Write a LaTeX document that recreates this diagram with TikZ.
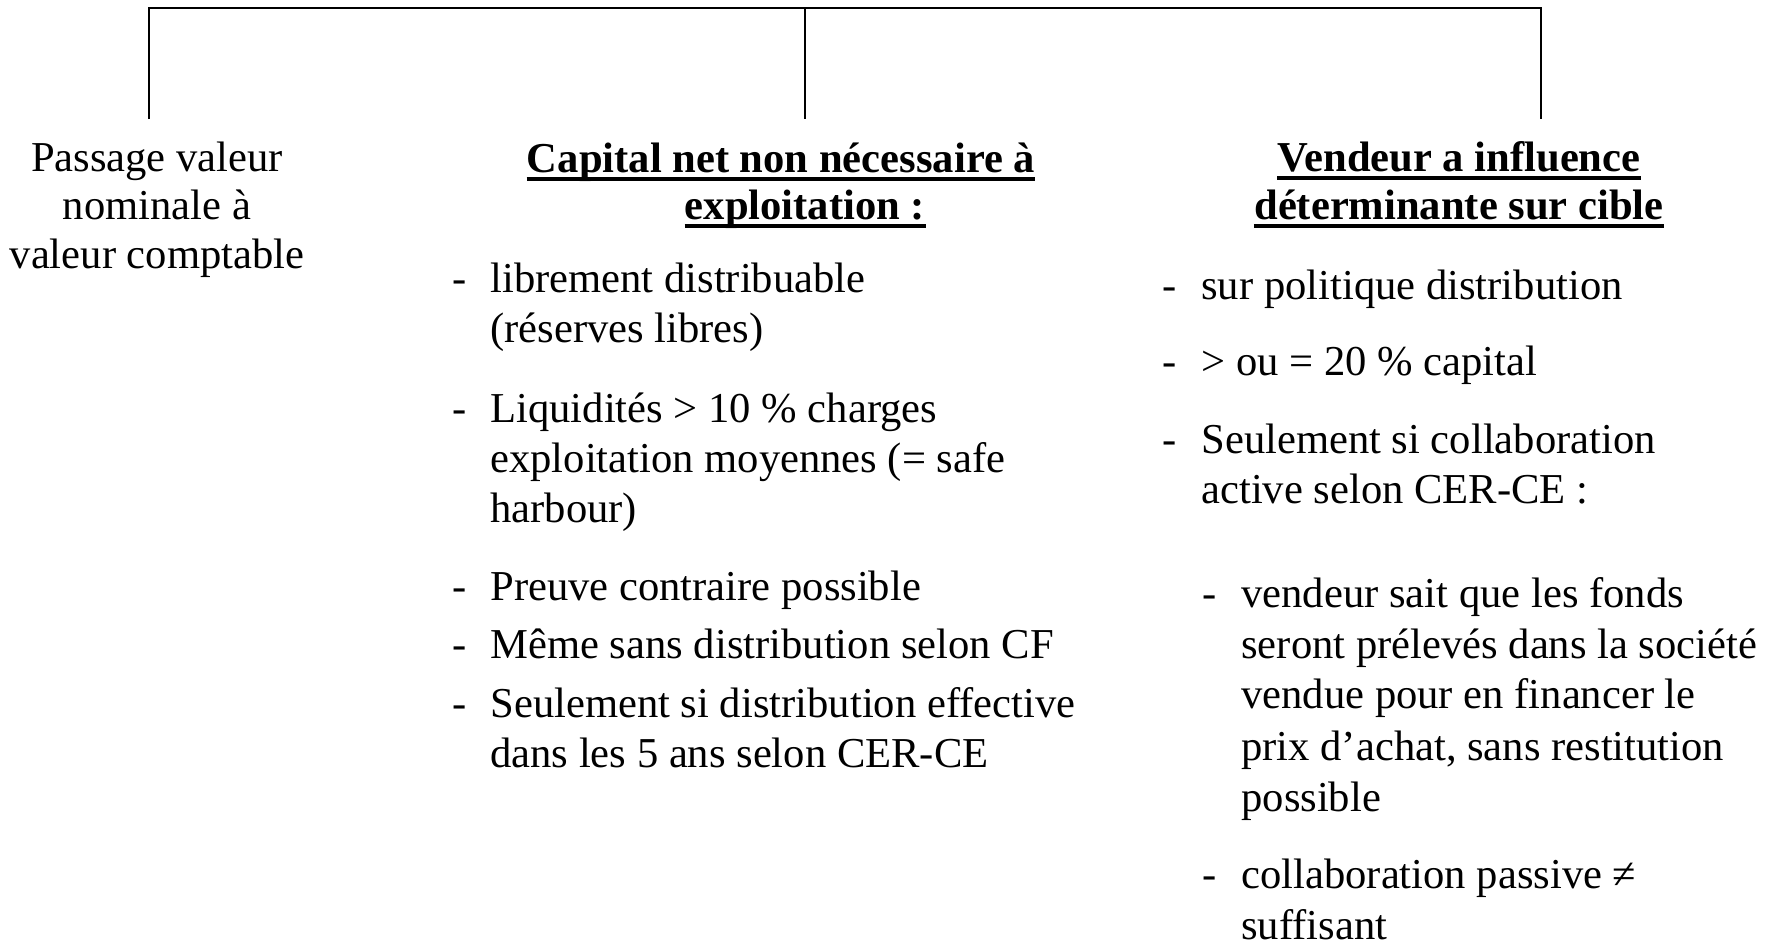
\documentclass[tikz,border=0pt]{standalone}
\usepackage{fontspec}
\setmainfont{Liberation Serif}
\begin{document}
\begin{tikzpicture}[x=0.5pt,y=-0.5pt,
  txt/.style={inner sep=0pt, font=\fontsize{21.3pt}{25pt}\selectfont},
  body/.style={txt, anchor=base west},
  mid/.style={txt, anchor=base},
  head/.style={txt, anchor=base, font=\fontsize{21.3pt}{25pt}\selectfont\bfseries},
  bar/.style={line width=1pt},
  uline/.style={line width=1.8pt}]
\useasboundingbox (0,0) rectangle (1774,944);

% tree bar and its three drops
\coordinate (barL) at (149,8);
\coordinate (barM) at (805,8);
\coordinate (barR) at (1541,8);
\coordinate (dropL) at (149,119);
\coordinate (dropM) at (805,119);
\coordinate (dropR) at (1541,119);
\draw[bar] (dropL) -- (barL) -- (barR) -- (dropR);
\draw[bar] (barM) -- (dropM);

% left branch
\node[mid] (l1) at (157,171) {Passage valeur};
\node[mid] (l2) at (157,219) {nominale à};
\node[mid] (l3) at (157,268) {valeur comptable};

% middle branch
\node[head] (m1) at (781,172) {Capital net non nécessaire à};
\node[head] (m2) at (805,219) {exploitation :};

\node[body] (md1) at (452,292) {-};
\node[body] (ma1) at (490,292) {librement distribuable};
\node[body] (ma2) at (490,342) {(réserves libres)};
\node[body] (md2) at (452,422) {-};
\node[body] (mb1) at (490,422) {Liquidités > 10 \% charges};
\node[body] (mb2) at (490,472) {exploitation moyennes (= safe};
\node[body] (mb3) at (490,522) {harbour)};
\node[body] (md3) at (452,600) {-};
\node[body] (mc1) at (490,600) {Preuve contraire possible};
\node[body] (md4) at (452,658) {-};
\node[body] (mdd) at (490,658) {Même sans distribution selon CF};
\node[body] (md5) at (452,717) {-};
\node[body] (me1) at (490,717) {Seulement si distribution effective};
\node[body] (me2) at (490,767) {dans les 5 ans selon CER-CE};

% right branch
\node[head] (r1) at (1459,171) {Vendeur a influence};
\node[head] (r2) at (1459,219) {déterminante sur cible};

% underlines of the two headings
\foreach \h in {m1,m2,r1,r2}
  \draw[uline] ([yshift=-3.5pt]\h.base west) -- ([yshift=-3.5pt]\h.base east);

\node[body] (rd1) at (1162,299) {-};
\node[body] (ra1) at (1201,299) {sur politique distribution};
\node[body] (rd2) at (1162,375) {-};
\node[body] (rb1) at (1201,375) {> ou = 20 \% capital};
\node[body] (rd3) at (1162,453) {-};
\node[body] (rc1) at (1201,453) {Seulement si collaboration};
\node[body] (rc2) at (1201,503) {active selon CER-CE :};

\node[body] (sd1) at (1202,607) {-};
\node[body] (sa1) at (1241,607) {vendeur sait que les fonds};
\node[body] (sa2) at (1241,658) {seront prélevés dans la société};
\node[body] (sa3) at (1241,708) {vendue pour en financer le};
\node[body] (sa4) at (1241,760) {prix d’achat, sans restitution};
\node[body] (sa5) at (1241,811) {possible};
\node[body] (sd2) at (1202,888) {-};
\node[body] (sb1) at (1241,888) {collaboration passive ≠};
\node[body] (sb2) at (1241,939) {suffisant};
\end{tikzpicture}
\end{document}
